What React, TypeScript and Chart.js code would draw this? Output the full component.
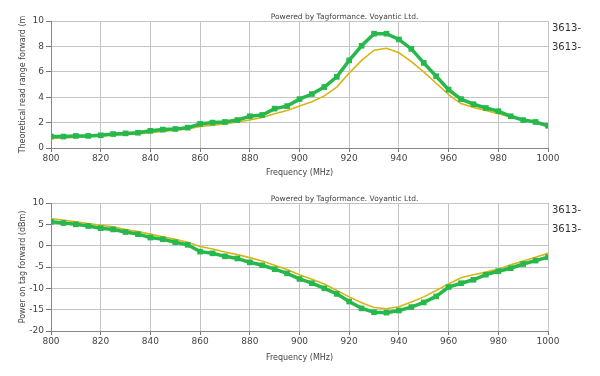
import React, { useEffect, useRef } from "react";
import { Chart, registerables } from "chart.js";

Chart.register(...registerables);

const freqs = [800, 805, 810, 815, 820, 825, 830, 835, 840, 845, 850, 855, 860, 865, 870, 875, 880, 885, 890, 895, 900, 905, 910, 915, 920, 925, 930, 935, 940, 945, 950, 955, 960, 965, 970, 975, 980, 985, 990, 995, 1000];

const rangeGreen = [0.9, 0.9, 0.95, 0.95, 1.0, 1.1, 1.15, 1.2, 1.35, 1.45, 1.5, 1.6, 1.9, 2.0, 2.05, 2.2, 2.5, 2.6, 3.1, 3.3, 3.85, 4.25, 4.8, 5.6, 6.9, 8.05, 9.0, 9.0, 8.55, 7.8, 6.7, 5.65, 4.6, 3.85, 3.45, 3.15, 2.9, 2.5, 2.2, 2.05, 1.75];
const rangeYellow = [0.75, 0.8, 0.85, 0.9, 0.95, 1.0, 1.05, 1.1, 1.2, 1.3, 1.4, 1.5, 1.7, 1.8, 1.9, 2.05, 2.2, 2.4, 2.7, 2.95, 3.3, 3.65, 4.1, 4.8, 5.9, 6.9, 7.7, 7.85, 7.5, 6.8, 6.0, 5.1, 4.2, 3.5, 3.2, 2.95, 2.7, 2.45, 2.2, 2.0, 1.7];

const powerGreen = [5.6, 5.3, 5.0, 4.6, 4.1, 3.8, 3.2, 2.7, 1.9, 1.5, 0.8, 0.2, -1.4, -1.8, -2.5, -3.0, -3.9, -4.6, -5.5, -6.5, -7.8, -8.8, -10.0, -11.3, -13.1, -14.7, -15.6, -15.7, -15.2, -14.4, -13.3, -11.9, -9.7, -8.8, -8.0, -6.8, -6.0, -5.3, -4.3, -3.5, -2.7];
const powerYellow = [6.3, 6.0, 5.6, 5.2, 4.8, 4.4, 3.8, 3.3, 2.7, 2.1, 1.5, 0.8, -0.2, -0.8, -1.5, -2.1, -2.8, -3.6, -4.6, -5.6, -6.8, -7.9, -9.0, -10.5, -12.0, -13.4, -14.5, -14.8, -14.3, -13.2, -12.0, -10.5, -9.0, -7.5, -6.8, -6.2, -5.5, -4.5, -3.6, -2.7, -1.8];

const legendLabels = ["3613-", "3613-"];
const poweredText = "Powered by Tagformance. Voyantic Ltd.";
const xTitle = "Frequency (MHz)";
const topYTitle = "Theoretical read range forward (m";
const bottomYTitle = "Power on tag forward (dBm)";

const GREEN = "#26b84c";
const YELLOW = "#d6b616";
const FONT = "'DejaVu Sans', Verdana, sans-serif";

const overlayPlugin = {
  id: "overlayText",
  afterDraw(chart: any) {
    const { ctx, chartArea } = chart;
    ctx.save();
    ctx.fillStyle = "#444";
    ctx.font = `7.5px ${FONT}`;
    ctx.textAlign = "center";
    ctx.textBaseline = "bottom";
    ctx.fillText(poweredText, (chartArea.left + chartArea.right) / 2 + 45, chartArea.top);
    ctx.font = `10px ${FONT}`;
    ctx.textAlign = "left";
    ctx.textBaseline = "middle";
    ctx.fillStyle = "#333";
    legendLabels.forEach((t, i) => {
      ctx.fillText(t, chartArea.right + 4, chartArea.top + 7 + i * 19);
    });
    ctx.restore();
  },
};

function makeConfig(green: number[], yellow: number[], yMin: number, yMax: number, step: number, yTitle: string, topPad: number, xHeight: number, xTitlePad: number) {
  return {
    type: "line" as const,
    data: {
      labels: freqs,
      datasets: [
        {
          label: legendLabels[0],
          data: freqs.map((f, i) => ({ x: f, y: green[i] })),
          borderColor: GREEN,
          backgroundColor: GREEN,
          borderWidth: 3.5,
          pointStyle: "rect",
          pointRadius: 4,
          pointBorderWidth: 0,
          tension: 0,
        },
        {
          label: legendLabels[1],
          data: freqs.map((f, i) => ({ x: f, y: yellow[i] })),
          borderColor: YELLOW,
          backgroundColor: YELLOW,
          borderWidth: 1.6,
          pointRadius: 0,
          tension: 0,
        },
      ],
    },
    options: {
      responsive: false,
      animation: false as const,
      layout: { padding: { top: topPad, right: 52, left: 0, bottom: 0 } },
      plugins: { legend: { display: false }, tooltip: { enabled: false } },
      scales: {
        x: {
          type: "linear" as const,
          min: 800,
          max: 1000,
          afterFit: (s: any) => { s.height = xHeight; },
          ticks: { stepSize: 20, color: "#444", font: { family: FONT, size: 9 }, padding: 1, maxRotation: 0, callback: (v: any) => String(v) },
          grid: { color: "#c4c4c4", lineWidth: 1, tickLength: 4, drawTicks: true, tickColor: "#777" },
          border: { color: "#888", width: 1 },
          title: { display: true, text: xTitle, color: "#444", font: { family: FONT, size: 8 }, padding: { top: 2, bottom: xTitlePad } },
        },
        y: {
          min: yMin,
          max: yMax,
          afterFit: (s: any) => { s.width = 51; },
          ticks: { stepSize: step, color: "#444", font: { family: FONT, size: 9 }, padding: 2 },
          grid: { color: "#c4c4c4", lineWidth: 1, tickLength: 5, tickColor: "#777" },
          border: { color: "#888", width: 1 },
          title: { display: true, text: yTitle, color: "#444", font: { family: FONT, size: 8 }, padding: { top: 18, bottom: 0 } },
        },
      },
    },
    plugins: [overlayPlugin],
  };
}

function ChartBox({ config, top, height }: { config: any; top: number; height: number }) {
  const ref = useRef<HTMLCanvasElement>(null);
  useEffect(() => {
    const chart = new Chart(ref.current as HTMLCanvasElement, config);
    return () => chart.destroy();
  }, []);
  return (
    <div style={{ position: "absolute", left: 0, top, width: 600, height }}>
      <canvas ref={ref} width={600} height={height} style={{ display: "block", width: 600, height }} />
    </div>
  );
}

export default function App() {
  const topCfg = makeConfig(rangeGreen, rangeYellow, 0, 10, 2, topYTitle, 21, 38, 8);
  const botCfg = makeConfig(powerGreen, powerYellow, -20, 10, 5, bottomYTitle, 17, 45, 13);
  return (
    <div style={{ position: "fixed", left: 0, top: 0, width: 600, height: 376, background: "#fff" }}>
      <ChartBox config={topCfg} top={0} height={186} />
      <ChartBox config={botCfg} top={186} height={190} />
    </div>
  );
}
